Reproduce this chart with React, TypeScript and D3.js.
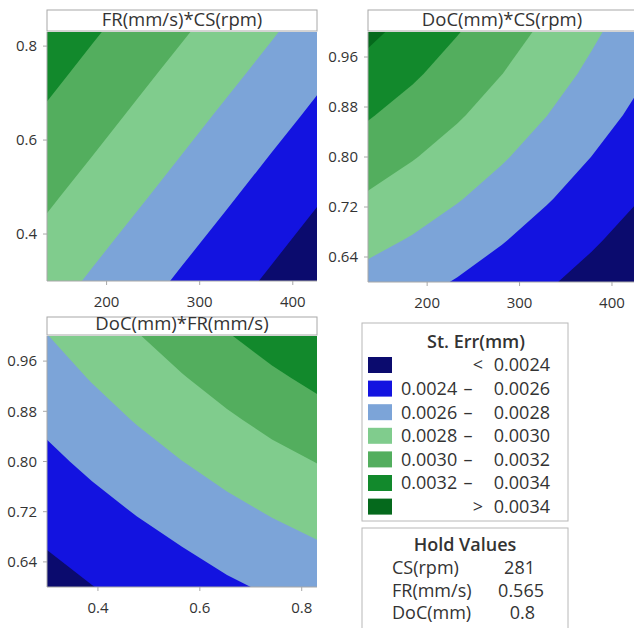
import React from 'react';
import * as d3 from 'd3';

// Contour levels (St. Err, mm) and band colours (lowest band first)
const levels = [0.0024, 0.0026, 0.0028, 0.003, 0.0032, 0.0034];
const bandColors = ['#0b0b6e', '#1313e0', '#7ca4d8', '#80cc8d', '#53ae5e', '#12892c', '#05691c'];
const legendRows = [
  ['', '<', '0.0024'],
  ['0.0024', '–', '0.0026'],
  ['0.0026', '–', '0.0028'],
  ['0.0028', '–', '0.0030'],
  ['0.0030', '–', '0.0032'],
  ['0.0032', '–', '0.0034'],
  ['', '>', '0.0034'],
];

const csDomain = [136, 426];
const frDomain = [0.3, 0.83];
const docDomain = [0.6, 1.0];
const csTicks = [200, 300, 400];
const frTicks = [0.4, 0.6, 0.8];
const docTicks = [0.64, 0.72, 0.8, 0.88, 0.96];

// St. Err read at grid nodes; rows = y from low to high, cols = x from low to high
const seFrCs = [
  [0.002879, 0.002777, 0.002675, 0.002573, 0.002472, 0.00237, 0.002268],
  [0.002953, 0.002851, 0.002749, 0.002647, 0.002546, 0.002444, 0.002342],
  [0.003027, 0.002925, 0.002824, 0.002722, 0.00262, 0.002518, 0.002416],
  [0.003102, 0.003, 0.002898, 0.002796, 0.002694, 0.002592, 0.00249],
  [0.003176, 0.003074, 0.002972, 0.00287, 0.002768, 0.002667, 0.002565],
  [0.00325, 0.003148, 0.003046, 0.002944, 0.002843, 0.002741, 0.002639],
  [0.003324, 0.003222, 0.003121, 0.003019, 0.002917, 0.002815, 0.002713],
];
const seDocCs = [
  [0.002732, 0.002663, 0.002587, 0.002508, 0.002423, 0.002333, 0.002237],
  [0.002856, 0.002784, 0.002701, 0.002611, 0.002521, 0.002426, 0.002326],
  [0.002977, 0.002899, 0.002813, 0.002717, 0.002615, 0.002515, 0.002411],
  [0.003097, 0.003011, 0.002919, 0.002819, 0.002711, 0.002599, 0.00249],
  [0.003215, 0.003122, 0.00302, 0.002914, 0.002802, 0.002684, 0.002565],
  [0.003332, 0.003227, 0.003118, 0.003002, 0.002885, 0.002762, 0.002635],
  [0.003444, 0.00333, 0.003209, 0.003086, 0.00296, 0.002833, 0.002702],
];
const seDocFr = [
  [0.00233, 0.002396, 0.002459, 0.002517, 0.002572, 0.002625, 0.002678],
  [0.002409, 0.002477, 0.002542, 0.002603, 0.00267, 0.002731, 0.002786],
  [0.002485, 0.002556, 0.002627, 0.002702, 0.002771, 0.002836, 0.002896],
  [0.00256, 0.002639, 0.002721, 0.002798, 0.002873, 0.002942, 0.003005],
  [0.002637, 0.002726, 0.002812, 0.002895, 0.002973, 0.003052, 0.003127],
  [0.002718, 0.002811, 0.002902, 0.002989, 0.00308, 0.003167, 0.003246],
  [0.002796, 0.002895, 0.00299, 0.003091, 0.003188, 0.003279, 0.003363],
];

const holdNames = ['CS(rpm)', 'FR(mm/s)', 'DoC(mm)'];
const holdValues = ['281', '0.565', '0.8'];

const FONT = '"Open Sans", "Noto Sans", sans-serif';
const TEXT = '#333333';
const AXIS = '#a8a8a8';

function Panel(props: any) {
  const { id, title, grid, xDomain, yDomain, xTicks, yTicks, xFmt, yFmt, box, titleTop } = props;
  const x = d3.scaleLinear().domain(xDomain).range([box.x0, box.x1]);
  const y = d3.scaleLinear().domain(yDomain).range([box.y1, box.y0]);
  const ny = grid.length;
  const nx = grid[0].length;
  const sx = (xDomain[1] - xDomain[0]) / (nx - 1);
  const sy = (yDomain[1] - yDomain[0]) / (ny - 1);
  const contours = d3.contours().size([nx, ny]).thresholds(levels)(grid.flat());
  const proj = d3.geoTransform({
    point(gx: number, gy: number) {
      (this as any).stream.point(x(xDomain[0] + (gx - 0.5) * sx), y(yDomain[0] + (gy - 0.5) * sy));
    },
  });
  const path = d3.geoPath(proj as any);
  const w = box.x1 - box.x0;
  const h = box.y1 - box.y0;
  return (
    <g>
      <defs>
        <clipPath id={id}>
          <rect x={box.x0} y={box.y0} width={w} height={h} />
        </clipPath>
      </defs>
      <g clipPath={`url(#${id})`}>
        <rect x={box.x0} y={box.y0} width={w} height={h} fill={bandColors[0]} />
        {contours.map((c: any, i: number) => (
          <path key={i} d={path(c) || ''} fill={bandColors[i + 1]} />
        ))}
      </g>
      <line x1={box.x0} x2={box.x0} y1={box.y0} y2={box.y1} stroke={AXIS} />
      <line x1={box.x0} x2={box.x1} y1={box.y1} y2={box.y1} stroke={AXIS} />
      <rect x={box.x0} y={titleTop} width={w} height={box.y0 - titleTop - 1} fill="#fff" stroke={AXIS} />
      <text x={(box.x0 + box.x1) / 2} y={box.y0 - 6} textAnchor="middle" fontSize={18.5} fill={TEXT} fontFamily={FONT}>
        {title}
      </text>
      {yTicks.map((t: number) => (
        <g key={'y' + t}>
          <line x1={box.x0 - 4} x2={box.x0} y1={y(t)} y2={y(t)} stroke={AXIS} />
          <text x={box.x0 - 10} y={y(t)} dy="0.35em" textAnchor="end" fontSize={15} fill={TEXT} fontFamily={FONT}>
            {yFmt(t)}
          </text>
        </g>
      ))}
      {xTicks.map((t: number) => (
        <g key={'x' + t}>
          <line x1={x(t)} x2={x(t)} y1={box.y1} y2={box.y1 + 4} stroke={AXIS} />
          <text x={x(t)} y={box.y1 + 26} textAnchor="middle" fontSize={15} fill={TEXT} fontFamily={FONT}>
            {xFmt(t)}
          </text>
        </g>
      ))}
    </g>
  );
}

export default function App() {
  const f1 = d3.format('.1f');
  const f2 = d3.format('.2f');
  const fd = d3.format('d');
  const lx = 362;
  const rowY = (i: number) => 365 + i * 23.6;
  const holdX = [535, 544, 535];
  return (
    <svg width={634} height={628} style={{ position: 'absolute', left: 0, top: 0, background: '#fff' }}>
      <rect width={634} height={628} fill="#fff" />
      <Panel id="c1" title="FR(mm/s)*CS(rpm)" grid={seFrCs} xDomain={csDomain} yDomain={frDomain}
        xTicks={csTicks} yTicks={frTicks} xFmt={fd} yFmt={f1}
        box={{ x0: 47, x1: 317, y0: 32, y1: 281 }} titleTop={10} />
      <Panel id="c2" title="DoC(mm)*CS(rpm)" grid={seDocCs} xDomain={csDomain} yDomain={docDomain}
        xTicks={csTicks} yTicks={docTicks} xFmt={fd} yFmt={f2}
        box={{ x0: 368, x1: 636, y0: 32, y1: 282 }} titleTop={10} />
      <Panel id="c3" title="DoC(mm)*FR(mm/s)" grid={seDocFr} xDomain={frDomain} yDomain={docDomain}
        xTicks={frTicks} yTicks={docTicks} xFmt={f1} yFmt={f2}
        box={{ x0: 47, x1: 317, y0: 336, y1: 587 }} titleTop={317} />

      <rect x={lx} y={323} width={206} height={198} fill="#fff" stroke="#b8b8b8" />
      <text x={476} y={348} textAnchor="middle" fontSize={18} fontWeight={600} fill={TEXT} fontFamily={FONT}>
        St. Err(mm)
      </text>
      {legendRows.map((r, i) => (
        <g key={i}>
          <rect x={368} y={rowY(i) - 8} width={24} height={16} fill={bandColors[i]} />
          {r[0] ? (
            <text x={401} y={rowY(i)} dy="0.35em" fontSize={18} fill={TEXT} fontFamily={FONT}>{r[0]}</text>
          ) : null}
          <text x={r[0] ? 468 : 478} y={rowY(i)} dy="0.35em" textAnchor="middle" fontSize={18} fill={TEXT} fontFamily={FONT}>
            {r[1]}
          </text>
          <text x={550} y={rowY(i)} dy="0.35em" textAnchor="end" fontSize={18} fill={TEXT} fontFamily={FONT}>{r[2]}</text>
        </g>
      ))}

      <rect x={lx} y={528} width={206} height={120} fill="#fff" stroke="#b8b8b8" />
      <text x={465} y={551} textAnchor="middle" fontSize={18} fontWeight={600} fill={TEXT} fontFamily={FONT}>
        Hold Values
      </text>
      {holdNames.map((n, i) => (
        <g key={n}>
          <text x={392} y={574 + i * 22.5} fontSize={18} fill={TEXT} fontFamily={FONT}>{n}</text>
          <text x={holdX[i]} y={574 + i * 22.5} textAnchor="end" fontSize={18} fill={TEXT} fontFamily={FONT}>{holdValues[i]}</text>
        </g>
      ))}
    </svg>
  );
}
